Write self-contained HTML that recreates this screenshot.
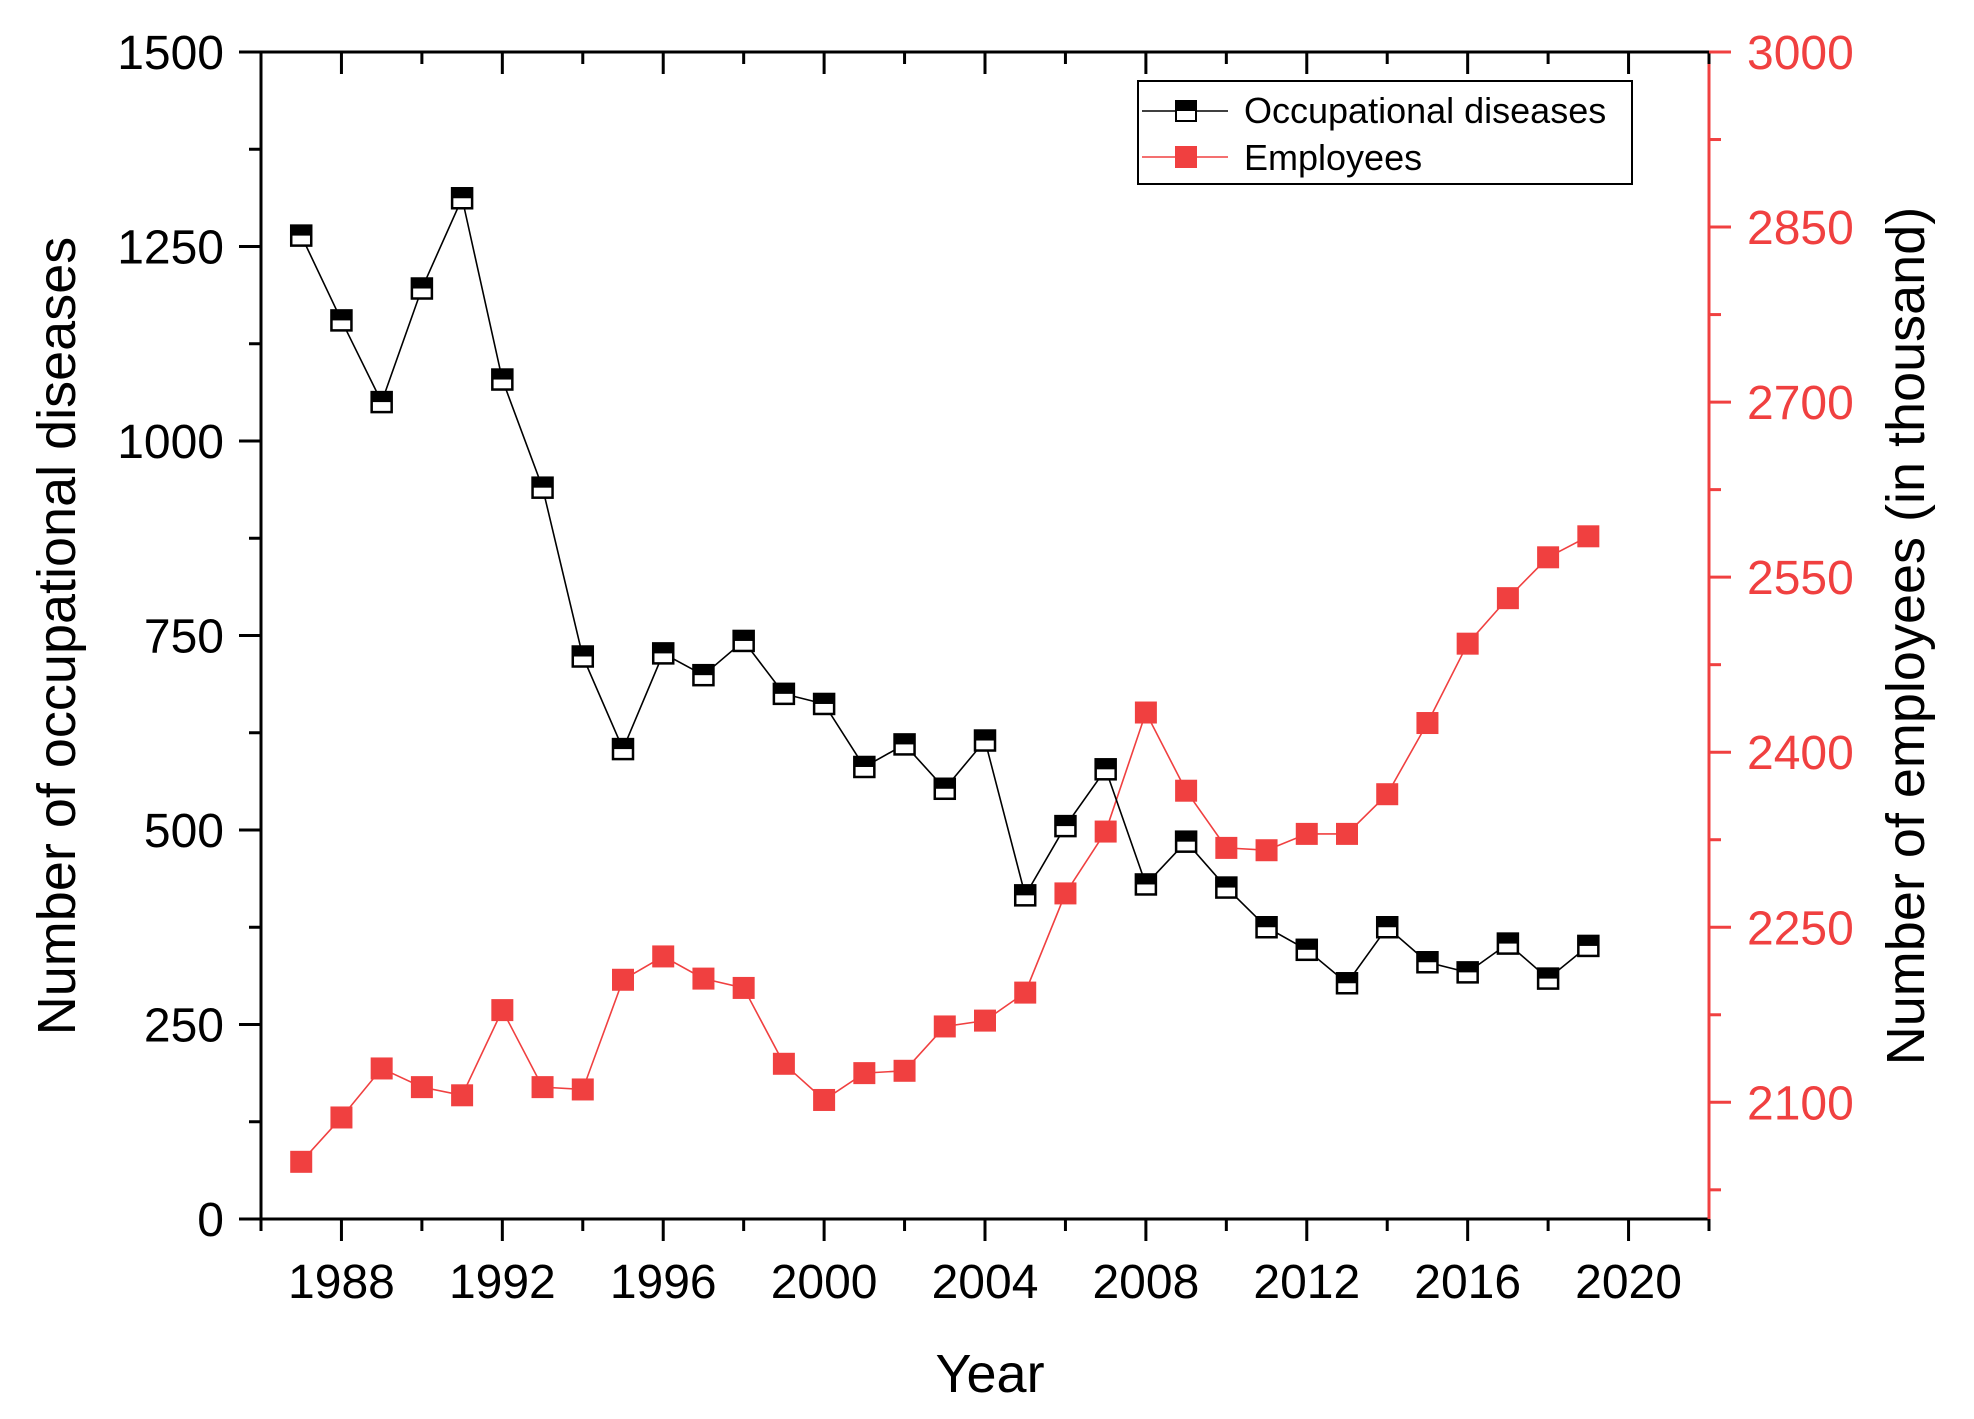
<!DOCTYPE html>
<html><head><meta charset="utf-8">
<style>
html,body{margin:0;padding:0;background:#fff;}
svg{display:block;font-family:"Liberation Sans",Arial,sans-serif;}
</style></head>
<body>
<svg id="chart" width="1974" height="1419" viewBox="0 0 1974 1419">
<g id="axes"></g>
<g id="series"></g>
<g id="legend">
  <rect x="1138" y="81" width="494" height="103" fill="#fff" stroke="#000" stroke-width="2"/>
  <g>
    <line x1="1142" y1="111" x2="1228" y2="111" stroke="#000" stroke-width="1.5"/>
    <rect x="1176" y="101" width="20" height="20" fill="#fff" stroke="#000" stroke-width="2"/>
    <rect x="1176" y="101" width="20" height="10" fill="#000"/>
    <text x="1244" y="123" font-size="36" fill="#000">Occupational diseases</text>
  </g>
  <g>
    <line x1="1142" y1="157" x2="1228" y2="157" stroke="#f04040" stroke-width="1.5"/>
    <rect x="1175" y="146" width="22" height="22" fill="#f04040"/>
    <text x="1244" y="170" font-size="36" fill="#000">Employees</text>
  </g>
</g>
<text x="990" y="1392" font-size="54" text-anchor="middle">Year</text>
<text transform="translate(75,636) rotate(-90)" font-size="54" text-anchor="middle">Number of occupational diseases</text>
<text transform="translate(1924,636) rotate(-90)" font-size="54" text-anchor="middle">Number of employees (in thousand)</text>
</svg>
<script>
const years = [1987,1988,1989,1990,1991,1992,1993,1994,1995,1996,1997,1998,1999,2000,2001,2002,2003,2004,2005,2006,2007,2008,2009,2010,2011,2012,2013,2014,2015,2016,2017,2018,2019];
const occupationalDiseases = [1264,1155,1050,1196,1312,1079,940,723,604,727,699,743,675,662,581,610,553,615,416,505,578,430,485,426,375,346,303,375,330,317,354,309,351];
const employees = [2049,2087,2129,2113,2106,2179,2113,2111,2205,2225,2206,2198,2133,2102,2125,2127,2165,2170,2194,2279,2332,2434,2367,2318,2316,2330,2330,2364,2425,2493,2532,2567,2585];
const xTickLabels = [1988,1992,1996,2000,2004,2008,2012,2016,2020];
const leftTickLabels = [0,250,500,750,1000,1250,1500];
const rightTickLabels = [2100,2250,2400,2550,2700,2850,3000];

const L=261,R=1709,T=52,B=1219;
const X0=1986,X1=2022,YL0=0,YL1=1500,YR0=2000,YR1=3000;
const RED='#f04040';
const xs=v=>L+(v-X0)/(X1-X0)*(R-L);
const yl=v=>B-(v-YL0)/(YL1-YL0)*(B-T);
const yr=v=>B-(v-YR0)/(YR1-YR0)*(B-T);
const NS='http://www.w3.org/2000/svg';
function mk(tag,attrs,parent){const e=document.createElementNS(NS,tag);for(const k in attrs)e.setAttribute(k,attrs[k]);parent.appendChild(e);return e;}
const axes=document.getElementById('axes');
const series=document.getElementById('series');

let ln;
ln=mk('line',{x1:L,y1:T,x2:R,y2:T,stroke:'#000','stroke-width':3},axes);


ln=mk('line',{x1:L,y1:B,x2:R,y2:B,stroke:'#000','stroke-width':3},axes);


ln=mk('line',{x1:L,y1:T-1.5,x2:L,y2:B+1.5,stroke:'#000','stroke-width':3},axes);


ln=mk('line',{x1:R,y1:T,x2:R,y2:B,stroke:RED,'stroke-width':3},axes);



for(let y=X0;y<=X1;y+=2){
  const major=xTickLabels.includes(y);
  const len=major?22:12;
  const x=xs(y);
  const t1=mk('line',{x1:x,y1:B,x2:x,y2:B+len,stroke:'#000','stroke-width':3},axes);
  
  
  const t2=mk('line',{x1:x,y1:T,x2:x,y2:T+len,stroke:'#000','stroke-width':3},axes);
  
  
}
xTickLabels.forEach(v=>{
  const t=mk('text',{x:xs(v),y:1298,'font-size':48,'text-anchor':'middle',fill:'#000'},axes);
  t.textContent=v;
  
  
});
for(let v=YL0;v<=YL1;v+=125){
  const major=leftTickLabels.includes(v);
  const t=mk('line',{x1:L-(major?22:12),y1:yl(v),x2:L,y2:yl(v),stroke:'#000','stroke-width':3},axes);
  
  
}
leftTickLabels.forEach(v=>{
  const t=mk('text',{x:224,y:yl(v)+17,'font-size':48,'text-anchor':'end',fill:'#000'},axes);
  t.textContent=v;
  
  
});
for(let v=2025;v<=YR1;v+=75){
  const major=rightTickLabels.includes(v);
  const t=mk('line',{x1:R,y1:yr(v),x2:R+(major?22:12),y2:yr(v),stroke:RED,'stroke-width':3},axes);
  
  
}
rightTickLabels.forEach(v=>{
  const t=mk('text',{x:1747,y:yr(v)+17,'font-size':48,'text-anchor':'start',fill:RED},axes);
  t.textContent=v;
  
  
});

const pe=mk('polyline',{points:years.map((y,i)=>xs(y)+','+yr(employees[i])).join(' '),fill:'none',stroke:RED,'stroke-width':1.6},series);


years.forEach((y,i)=>{
  const r=mk('rect',{x:xs(y)-11,y:yr(employees[i])-11,width:22,height:22,fill:RED},series);
  
  
});
const po=mk('polyline',{points:years.map((y,i)=>xs(y)+','+yl(occupationalDiseases[i])).join(' '),fill:'none',stroke:'#000','stroke-width':1.6},series);


years.forEach((y,i)=>{
  const cx=xs(y),cy=yl(occupationalDiseases[i]);
  const g=mk('g',{},series);
  
  
  mk('rect',{x:cx-10,y:cy-10,width:20,height:20,fill:'#fff',stroke:'#000','stroke-width':2.5},g);
  mk('rect',{x:cx-10,y:cy-10,width:20,height:10,fill:'#000'},g);
});
</script>
</body></html>
